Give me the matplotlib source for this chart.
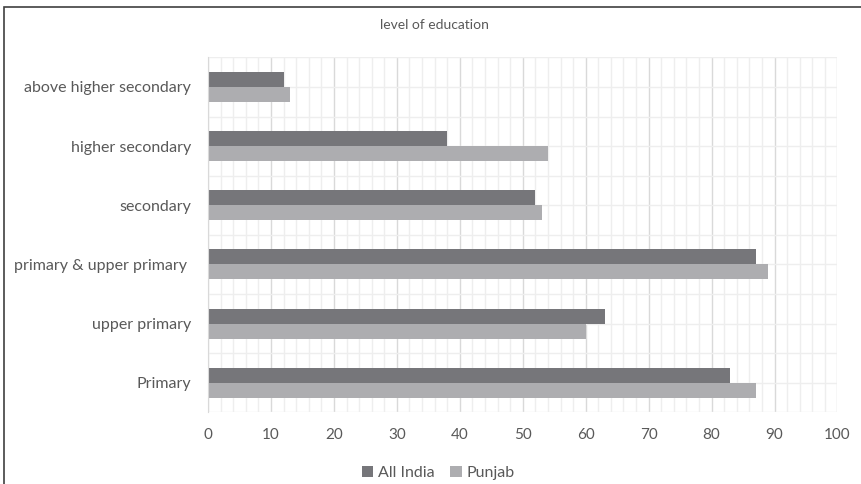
import numpy as np
import matplotlib.pyplot as plt
from matplotlib.patches import Rectangle

categories = ["Primary", "upper primary", "primary & upper primary ", "secondary",
              "higher secondary", "above higher secondary"]
all_india = [83, 63, 87, 52, 38, 12]
punjab = [87, 60, 89, 53, 54, 13]
series_names = ["All India", "Punjab"]
xticks = list(range(0, 101, 10))

plt.rcParams['font.family'] = ['Lato', 'DejaVu Sans']
text_col = '#595959'

fig = plt.figure(figsize=(8.61, 4.84), dpi=100)
ax = fig.add_axes([0.2416, 0.148, 0.7311, 0.7335])

y = np.arange(len(categories))
h = 0.253
ax.barh(y + h / 2, all_india, height=h, color='#76767a', label=series_names[0], zorder=3)
ax.barh(y - h / 2, punjab, height=h, color='#adadb0', label=series_names[1], zorder=3)

ax.set_xlim(0, 100)
ax.set_ylim(-0.5, len(categories) - 0.5)
ax.set_xticks(xticks)
ax.set_xticks(np.arange(0, 101, 2), minor=True)
ax.set_yticks(y)
ax.set_yticklabels(categories)
ax.set_yticks(np.arange(-0.5, len(categories), 1), minor=True)

ax.grid(which='major', axis='x', color='#d9d9d9', lw=1, zorder=1)
ax.grid(which='minor', axis='x', color='#eeeeee', lw=1, zorder=0)
ax.grid(which='both', axis='y', color='#eeeeee', lw=1, zorder=0)

for s in ['top', 'right', 'bottom']:
    ax.spines[s].set_visible(False)
ax.spines['left'].set_color('#d9d9d9')
ax.spines['left'].set_zorder(4)

ax.tick_params(which='both', length=0)
ax.tick_params(axis='x', pad=11, labelsize=11, labelcolor=text_col)
ax.tick_params(axis='y', pad=12, labelsize=11.5, labelcolor=text_col)

fig.text(0.505, 0.948, "level of education", ha='center', va='center', fontsize=10, color=text_col)

fig.legend(loc='center', bbox_to_anchor=(0.509, 0.022), ncol=2, frameon=False,
           fontsize=11.5, labelcolor=text_col, handlelength=0.7, handleheight=0.7,
           handletextpad=0.3, columnspacing=1.0)

fig.patches.append(Rectangle((4 / 861, -0.1), 1.2, 1 - 7 / 484 + 0.1, transform=fig.transFigure,
                             fill=False, edgecolor='#404040', lw=1.2))

fig.savefig("out.png", dpi=100)
